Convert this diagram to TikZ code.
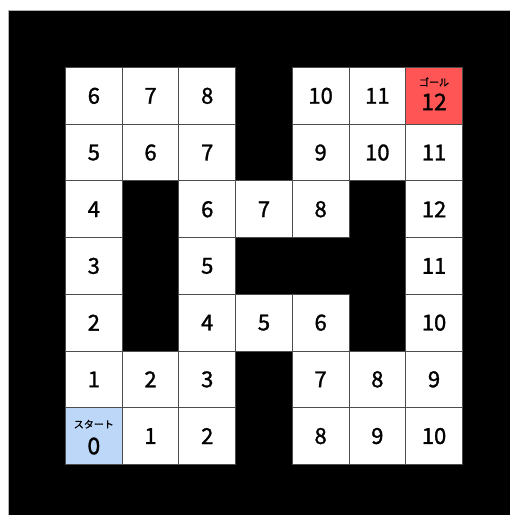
\documentclass[tikz,border=0pt]{standalone}
\usepackage{fontspec}
\setmainfont{Noto Sans CJK JP}
\newfontfamily\medfont{Noto Sans CJK JP}[FakeBold=1.3]
\begin{document}
\begin{tikzpicture}[x=1pt,y=-1pt,
  cellbox/.style={draw=black!70,line width=1pt,minimum size=56.7pt,inner sep=0pt,anchor=north west,fill=white,font=\medfont\fontsize{22}{24}\selectfont},
  startcol/.style={fill=startblue},
  goalcol/.style={fill=goalred},
  tag/.style={font=\medfont\fontsize{10}{11}\selectfont,inner sep=0pt},
  bignum/.style={font=\medfont\fontsize{23}{25}\selectfont,inner sep=0pt}]
\definecolor{startblue}{HTML}{BDD7F8}
\definecolor{goalred}{HTML}{FF5555}
\useasboundingbox (0,0) rectangle (510,515);
\fill[white] (0,0) rectangle (510,515);
\draw[fill=black,draw=black!30,line width=0.8pt] (8,10) rectangle (512,517);
\def\cs{56.7}
\newcommand{\cellat}[4]{\node[cellbox,#4] (c#1#2) at ({65+#1*\cs},{67+#2*\cs}) {#3};}
% row 0
\cellat{0}{0}{6}{}
\cellat{1}{0}{7}{}
\cellat{2}{0}{8}{}
\cellat{4}{0}{10}{}
\cellat{5}{0}{11}{}
\node[cellbox,goalcol] (c60) at ({65+6*\cs},67) {};
% row 1
\cellat{0}{1}{5}{}
\cellat{1}{1}{6}{}
\cellat{2}{1}{7}{}
\cellat{4}{1}{9}{}
\cellat{5}{1}{10}{}
\cellat{6}{1}{11}{}
% row 2
\cellat{0}{2}{4}{}
\cellat{2}{2}{6}{}
\cellat{3}{2}{7}{}
\cellat{4}{2}{8}{}
\cellat{6}{2}{12}{}
% row 3
\cellat{0}{3}{3}{}
\cellat{2}{3}{5}{}
\cellat{6}{3}{11}{}
% row 4
\cellat{0}{4}{2}{}
\cellat{2}{4}{4}{}
\cellat{3}{4}{5}{}
\cellat{4}{4}{6}{}
\cellat{6}{4}{10}{}
% row 5
\cellat{0}{5}{1}{}
\cellat{1}{5}{2}{}
\cellat{2}{5}{3}{}
\cellat{4}{5}{7}{}
\cellat{5}{5}{8}{}
\cellat{6}{5}{9}{}
% row 6
\node[cellbox,startcol] (c06) at (65,{67+6*\cs}) {};
\cellat{1}{6}{1}{}
\cellat{2}{6}{2}{}
\cellat{4}{6}{8}{}
\cellat{5}{6}{9}{}
\cellat{6}{6}{10}{}
% goal labels
\node[tag] (goaltag) at ([yshift=-15pt]c60.north) {ゴール};
\node[bignum] (goalnum) at ([yshift=-6pt]c60.center) {12};
% start labels
\node[tag] (starttag) at ([yshift=-17pt]c06.north) {スタート};
\node[bignum] (startnum) at ([yshift=-10pt]c06.center) {0};
\end{tikzpicture}
\end{document}
